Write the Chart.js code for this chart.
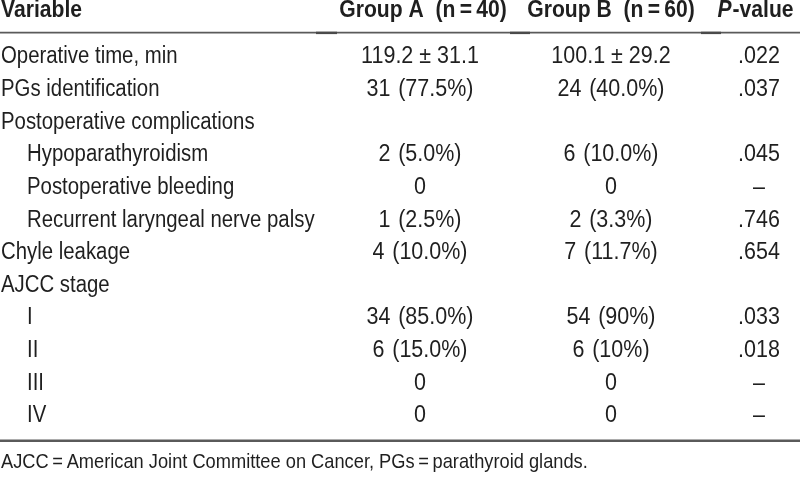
<!DOCTYPE html>
<html>
<head>
<meta charset="utf-8">
<script src="https://cdn.jsdelivr.net/npm/chart.js@4.4.1/dist/chart.umd.min.js"></script>
<style>
  html, body { margin: 0; padding: 0; background: #ffffff; }
  #wrap { width: 800px; height: 480px; position: relative; }
</style>
</head>
<body>
<div id="wrap"><canvas id="c" width="800" height="480"></canvas></div>
<script>
// ---- Table data ----
const variables = [
  "Operative time, min",
  "PGs identification",
  "Postoperative complications",
  "Hypoparathyroidism",
  "Postoperative bleeding",
  "Recurrent laryngeal nerve palsy",
  "Chyle leakage",
  "AJCC stage",
  "I",
  "II",
  "III",
  "IV"
];
const indentLevels = [0, 0, 0, 1, 1, 1, 0, 0, 1, 1, 1, 1];
const groupA = ["119.2 \u00b1 31.1", "31\u200A (77.5%)", "", "2\u200A (5.0%)", "0", "1\u200A (2.5%)", "4\u200A (10.0%)", "", "34\u200A (85.0%)", "6\u200A (15.0%)", "0", "0"];
const groupB = ["100.1 \u00b1 29.2", "24\u200A (40.0%)", "", "6\u200A (10.0%)", "0", "2\u200A (3.3%)", "7\u200A (11.7%)", "", "54\u200A (90%)", "6\u200A (10%)", "0", "0"];
const pValues = [".022", ".037", "", ".045", "\u2013", ".746", ".654", "", ".033", ".018", "\u2013", "\u2013"];
const headers = ["Variable", "Group A  (n\u2009=\u200940)", "Group B  (n\u2009=\u200960)", "P-value"];
const footnote = "AJCC\u2009=\u2009American Joint Committee on Cancer, PGs\u2009=\u2009parathyroid glands.";

// ---- layout ----
const colCenters = [0, 420, 611, 759];
const textColor = "#1f1f1f";
const ruleColor = "#5a5a5a";
const FAMILY_N = "'Liberation Sans Narrow'";
const FAMILY_FALLBACK = "'Liberation Sans', Arial, sans-serif";
const FS = 23;
const FS_H = 23;
const FS_F = 21;

// detect narrow font
const probe = document.createElement('canvas').getContext('2d');
probe.font = FS + "px " + FAMILY_N + ", monospace";
const wN = probe.measureText("Operative time, min").width;
probe.font = FS + "px monospace";
const wM = probe.measureText("Operative time, min").width;
const hasNarrow = Math.abs(wN - wM) > 0.5;
const FAMILY = hasNarrow ? FAMILY_N + ", " + FAMILY_FALLBACK : FAMILY_FALLBACK;
const K = hasNarrow ? 1 : 0.82;
const SX = 1.08 * K;     // row labels
const SXV = 1.14 * K;    // values
const SXH = 1.12 * K;    // header
const SXF = 1.06 * K;    // footnote

function drawText(ctx, txt, x, y, align, font, sx) {
  ctx.save();
  ctx.font = font;
  ctx.textBaseline = 'middle';
  const w = ctx.measureText(txt).width * sx;
  let left = x;
  if (align === 'center') left = x - w / 2;
  else if (align === 'right') left = x - w;
  ctx.translate(left, y);
  ctx.scale(sx, 1);
  ctx.textAlign = 'left';
  ctx.fillText(txt, 0, 0);
  ctx.restore();
  return w;
}
function textW(ctx, txt, font, sx) {
  ctx.save(); ctx.font = font; const w = ctx.measureText(txt).width * sx; ctx.restore(); return w;
}

const tablePlugin = {
  id: 'tableText',
  afterDraw(chart) {
    const ctx = chart.ctx;
    const xs = chart.scales.x, ys = chart.scales.y;
    const fReg = FS + "px " + FAMILY;
    const fFoot = FS_F + "px " + FAMILY;
    const fBold = "bold " + FS_H + "px " + FAMILY;
    const fBoldIt = "italic bold " + FS_H + "px " + FAMILY;
    ctx.fillStyle = textColor;

    // header
    const hy = ys.top - 30;
    drawText(ctx, headers[0], xs.getPixelForValue(colCenters[0]) + 1, hy, 'left', fBold, SXH);
    drawText(ctx, headers[1], xs.getPixelForValue(colCenters[1]) + 3, hy, 'center', fBold, SXH);
    drawText(ctx, headers[2], xs.getPixelForValue(colCenters[2]), hy, 'center', fBold, SXH);
    const wP = textW(ctx, "P", fBoldIt, SXH), wRest = textW(ctx, "-value", fBold, SXH);
    const pl = xs.getPixelForValue(colCenters[3]) - (wP + wRest) / 2 - 4;
    drawText(ctx, "P", pl, hy, 'left', fBoldIt, SXH);
    drawText(ctx, "-value", pl + wP + 1, hy, 'left', fBold, SXH);

    // rules
    ctx.save();
    ctx.strokeStyle = ruleColor;
    const ry = ys.top - 8;
    ctx.lineWidth = 1.8;
    ctx.beginPath(); ctx.moveTo(0, ry); ctx.lineTo(800, ry); ctx.stroke();
    ctx.strokeStyle = "#4a4a4a";
    ctx.lineWidth = 2.4;
    [[316, 337], [510, 530], [701, 721]].forEach(function (seg) {
      ctx.beginPath(); ctx.moveTo(seg[0], ry + 0.2); ctx.lineTo(seg[1], ry + 0.2); ctx.stroke();
    });
    ctx.strokeStyle = ruleColor;
    ctx.lineWidth = 2.6;
    ctx.beginPath(); ctx.moveTo(0, ys.bottom + 8.5); ctx.lineTo(800, ys.bottom + 8.5); ctx.stroke();
    ctx.restore();

    // rows
    for (let i = 0; i < variables.length; i++) {
      const y = ys.getPixelForValue(i);
      drawText(ctx, variables[i], xs.getPixelForValue(colCenters[0]) + 1 + indentLevels[i] * 26, y, 'left', fReg, SX);
      if (groupA[i]) drawText(ctx, groupA[i], xs.getPixelForValue(colCenters[1]), y, 'center', fReg, SXV);
      if (groupB[i]) drawText(ctx, groupB[i], xs.getPixelForValue(colCenters[2]), y, 'center', fReg, SXV);
      if (pValues[i]) drawText(ctx, pValues[i], xs.getPixelForValue(colCenters[3]), y, 'center', fReg, SXV);
    }

    // footnote
    drawText(ctx, footnote, 1, ys.bottom + 30, 'left', fFoot, SXF);
  }
};

new Chart(document.getElementById('c'), {
  type: 'scatter',
  data: { labels: variables, datasets: [{ data: [], pointRadius: 0 }] },
  options: {
    responsive: false,
    animation: false,
    events: [],
    layout: { padding: { top: 40.7, bottom: 47.7, left: 0, right: 0 } },
    plugins: { legend: { display: false }, tooltip: { enabled: false } },
    scales: {
      x: { type: 'linear', min: 0, max: 800, display: false },
      y: { type: 'category', labels: variables, offset: true, display: false }
    }
  },
  plugins: [tablePlugin]
});
</script>
</body>
</html>
